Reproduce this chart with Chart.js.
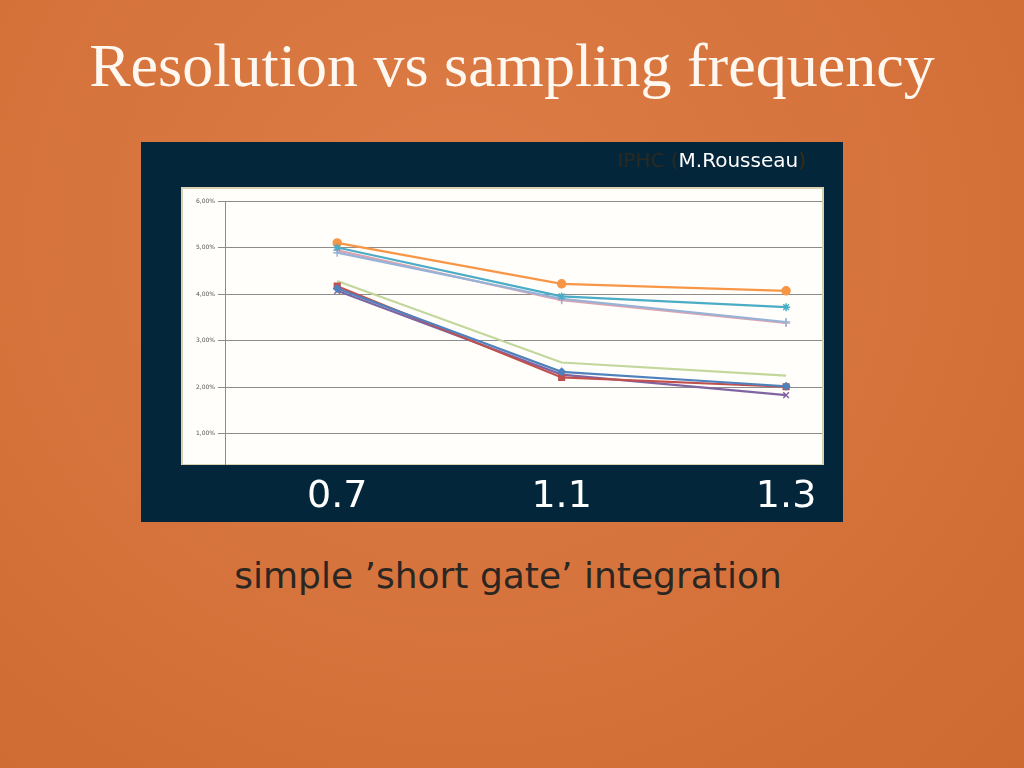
<!DOCTYPE html>
<html>
<head>
<meta charset="utf-8">
<script src="https://cdn.jsdelivr.net/npm/chart.js@4.4.1/dist/chart.umd.min.js"></script>
<style>
  html, body { margin: 0; padding: 0; }
  body {
    width: 1024px; height: 768px; overflow: hidden; position: relative;
    background: radial-gradient(ellipse at 45% 30%, #dc7c46 0%, #d6733c 55%, #cc6a31 100%);
  }
  #title {
    position: absolute; left: 0; top: 30px; width: 1024px; text-align: center;
    font-family: "Liberation Serif", serif; font-size: 62px; color: #fff8f0;
  }
  #panel {
    position: absolute; left: 141px; top: 142px; width: 702px; height: 380px;
    background: #03263a;
  }
  #credit {
    position: absolute; right: 37px; top: 6px;
    font-family: "DejaVu Sans", sans-serif; font-size: 20px;
  }
  #sub {
    position: absolute; left: 0; top: 555px; width: 1016px; text-align: center;
    font-family: "DejaVu Sans", sans-serif; font-size: 36px; color: #2b2622;
  }
</style>
</head>
<body>
<div id="title">Resolution vs sampling frequency</div>
<div id="panel">
  <canvas id="chart"></canvas>
  <div id="credit"><span style="color:#2b2a22">IPHC (</span><span style="color:#ffffff">M.Rousseau</span><span style="color:#3b2c12">)</span></div>
</div>
<div id="sub">simple ’short gate’ integration</div>

<script>
// sampling frequency (GHz) categories
const xLabels = ['0.7', '1.1', '1.3'];
const yTicks = [1, 2, 3, 4, 5, 6];

// resolution in %
const blueDiamond = [4.12, 2.33, 2.02];
const redSquare = [4.17, 2.21, 2.01];
const lightGreen = [4.28, 2.53, 2.25];
const purpleX = [4.07, 2.27, 1.83];
const aquaStar = [5.00, 3.95, 3.72];
const orangeCircle = [5.10, 4.22, 4.07];
const lightBluePlus = [4.89, 3.90, 3.40];
const pinkPlus = [4.94, 3.87, 3.38];

function pts(arr) {
    return arr.map((v, i) => ({ x: i, y: v }));
}

function series(label, data, color, style, radius) {
    return {
        label: label,
        data: pts(data),
        borderColor: color,
        backgroundColor: color,
        borderWidth: 2.2,
        pointStyle: style,
        pointRadius: radius,
        pointBorderWidth: 1.5,
        tension: 0,
        fill: false,
    };
}

// white plot box behind the chart, like the pasted excel picture
const whiteBox = {
    id: 'whiteBox',
    beforeDraw(chart) {
        const a = chart.chartArea;
        const ctx = chart.ctx;
        ctx.save();
        ctx.fillStyle = '#d9d3b4';
        ctx.fillRect(a.left - 44, a.top - 14, a.right - a.left + 46, a.bottom - a.top + 15);
        ctx.fillStyle = '#fffefa';
        ctx.fillRect(a.left - 42, a.top - 12, a.right - a.left + 42, a.bottom - a.top + 12);
        ctx.restore();
    }
};

const ctx = document.getElementById('chart').getContext('2d');
new Chart(ctx, {
    type: 'line',
    data: {
        datasets: [
            series('s1', blueDiamond, '#4f81bd', 'rectRot', 3.5),
            series('s2', redSquare, '#c0504d', 'rect', 4),
            series('s3', lightGreen, '#c3d69b', 'triangle', 0),
            series('s4', purpleX, '#8064a2', 'crossRot', 4),
            series('s5', aquaStar, '#4bacc6', 'star', 4),
            series('s6', orangeCircle, '#f79646', 'circle', 4),
            series('s7', lightBluePlus, '#95b3d7', 'cross', 4),
            series('s8', pinkPlus, '#d9a3b3', 'cross', 4),
        ]
    },
    plugins: [whiteBox],
    options: {
        responsive: true,
        maintainAspectRatio: false,
        animation: false,
        layout: { padding: { left: 40, right: 21, top: 59, bottom: 0 } },
        plugins: {
            legend: { display: false },
            tooltip: { enabled: false },
        },
        scales: {
            x: {
                type: 'linear',
                min: -0.5,
                max: 2.16,
                afterBuildTicks: (axis) => {
                    axis.ticks = xLabels.map((l, i) => ({ value: i }));
                },
                afterFit: (axis) => { axis.height = 58; },
                ticks: {
                    callback: (value) => xLabels[value],
                    color: '#ffffff',
                    font: { family: 'DejaVu Sans', size: 38 },
                    padding: 10,
                    maxRotation: 0,
                },
                grid: { display: false, drawTicks: false },
                border: { display: false },
            },
            y: {
                min: 0.35,
                max: 6,
                afterBuildTicks: (axis) => {
                    axis.ticks = yTicks.map(v => ({ value: v }));
                },
                afterFit: (axis) => { axis.width = 44; },
                ticks: {
                    callback: (value) => value.toFixed(2).replace('.', ',') + '%',
                    color: '#555555',
                    font: { family: 'DejaVu Sans', size: 6 },
                    padding: 3,
                },
                grid: { color: '#8c8c8c', lineWidth: 1, tickLength: 7 },
                border: { color: '#8c8c8c', width: 1 },
            }
        }
    }
});
</script>
</body>
</html>
